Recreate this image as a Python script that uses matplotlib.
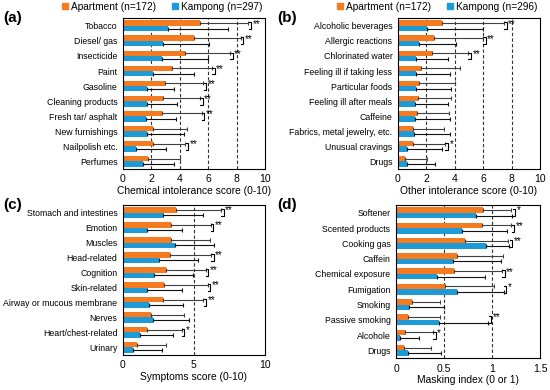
import numpy as np
import matplotlib
matplotlib.use("Agg")
import matplotlib.pyplot as plt
from matplotlib.patches import Patch

plt.rcParams['font.family'] = ['Liberation Sans', 'DejaVu Sans']

ORANGE = '#F47B20'
BLUE = '#1E9AD6'

# (a) chemical intolerance
a_labels = ["Tobacco", "Diesel/ gas", "Insecticide", "Paint", "Gasoline",
            "Cleaning products", "Fresh tar/ asphalt", "New furnishings",
            "Nailpolish etc.", "Perfumes"]
a_apt = [5.42, 5.0, 4.37, 3.43, 2.98, 2.82, 2.77, 2.11, 2.11, 1.76]
a_apt_sd = [3.41, 3.29, 3.17, 2.84, 2.68, 2.60, 2.77, 2.37, 2.28, 2.25]
a_kam = [3.19, 2.84, 2.72, 2.09, 1.69, 1.69, 1.64, 1.69, 0.92, 1.41]
a_kam_sd = [4.18, 3.19, 3.27, 2.93, 1.93, 2.09, 2.09, 2.63, 2.08, 2.18]
a_sig = ["**", "**", "**", "**", "**", "**", "**", "", "**", ""]

# (b) other intolerance
b_labels = ["Alcoholic beverages", "Allergic reactions", "Chlorinated water",
            "Feeling ill if taking less", "Particular foods",
            "Feeling ill after meals", "Caffeine",
            "Fabrics, metal jewelry, etc.", "Unusual cravings", "Drugs"]
b_apt = [3.1, 2.56, 2.4, 1.62, 1.5, 1.41, 1.32, 1.06, 1.06, 0.52]
b_apt_sd = [4.36, 3.42, 2.54, 2.73, 2.5, 2.31, 2.3, 2.16, 2.26, 1.53]
b_kam = [2.05, 1.5, 1.29, 1.27, 1.29, 1.22, 1.22, 1.13, 0.61, 0.66]
b_kam_sd = [3.93, 2.57, 2.21, 2.42, 2.43, 2.33, 2.45, 2.54, 2.49, 1.98]
b_sig = ["**", "**", "**", "", "", "", "", "", "*", ""]

# (c) symptoms
c_labels = ["Stomach and intestines", "Emotion", "Muscles", "Head-related",
            "Cognition", "Skin-related", "Airway or mucous membrane",
            "Nerves", "Heart/chest-related", "Urinary"]
c_apt = [3.73, 3.36, 3.36, 3.29, 3.03, 2.89, 2.84, 1.95, 1.67, 1.01]
c_apt_sd = [3.17, 2.81, 2.77, 2.91, 2.79, 3.07, 2.82, 2.37, 2.46, 1.99]
c_kam = [2.79, 1.71, 3.64, 2.54, 2.16, 1.67, 1.85, 2.09, 1.2, 0.73]
c_kam_sd = [2.87, 2.47, 2.77, 2.72, 2.79, 2.46, 2.35, 2.56, 2.3, 1.99]
c_sig = ["**", "**", "", "**", "**", "**", "**", "", "*", ""]

# (d) masking
d_labels = ["Softener", "Scented products", "Cooking gas", "Caffein",
            "Chemical exposure", "Fumigation", "Smoking", "Passive smoking",
            "Alcohole", "Drugs"]
d_apt = [0.906, 0.9, 0.715, 0.63, 0.6, 0.51, 0.17, 0.13, 0.09, 0.08]
d_apt_sd = [0.294, 0.3, 0.455, 0.48, 0.5, 0.51, 0.29, 0.33, 0.295, 0.28]
d_kam = [0.83, 0.69, 0.94, 0.59, 0.43, 0.635, 0.14, 0.45, 0.038, 0.13]
d_kam_sd = [0.38, 0.47, 0.24, 0.5, 0.5, 0.485, 0.36, 0.51, 0.2, 0.34]
d_sig = ["*", "**", "**", "", "**", "*", "", "**", "*", ""]


def panel(ax, labels, apt, apt_sd, kam, kam_sd, sig, xmax, step, grid, xlabel):
    y = np.arange(len(labels))
    h = 0.36
    ax.barh(y - h / 2, apt, height=h, color=ORANGE, zorder=2)
    ax.barh(y + h / 2, kam, height=h, color=BLUE, zorder=2)
    zeros = np.zeros(len(labels))
    ax.errorbar(apt, y - h / 2, xerr=[zeros, apt_sd], fmt='none',
                ecolor='#404040', elinewidth=0.8, capsize=1.5, capthick=0.8, zorder=3)
    ax.errorbar(kam, y + h / 2, xerr=[zeros, kam_sd], fmt='none',
                ecolor='#111111', elinewidth=0.8, capsize=1.5, capthick=0.8, zorder=3)
    for g in grid:
        ax.axvline(g, color='#333333', ls=(0, (3, 2)), lw=0.8, zorder=1)
    off = xmax * 0.02
    tick = xmax * 0.018
    for i, s in enumerate(sig):
        if not s:
            continue
        xb = max(apt[i] + apt_sd[i], kam[i] + kam_sd[i]) + off
        y0, y1 = i - h / 2 - 0.05, i + h / 2 + 0.05
        ax.plot([xb - tick, xb, xb, xb - tick], [y0, y0, y1, y1],
                color='black', lw=0.8, zorder=4, clip_on=False)
        ax.text(xb + off * 0.5, i - 0.15, s, fontsize=7, ha='left', va='center')
    ticks = np.arange(0, xmax + step / 2, step)
    ax.set_xlim(0, xmax)
    ax.set_xticks(ticks)
    ax.set_xticklabels([f"{v:g}" for v in ticks])
    ax.set_ylim(len(labels) - 0.5, -0.5)
    ax.set_yticks(y)
    ax.set_yticklabels(labels)
    ax.tick_params(axis='y', length=0, labelsize=6.3, pad=4)
    ax.tick_params(axis='x', length=0, labelsize=7.5, pad=4)
    ax.set_xlabel(xlabel, fontsize=7.4, labelpad=1)
    for sp in ax.spines.values():
        sp.set_linewidth(0.8)
        sp.set_color('black')


fig = plt.figure(figsize=(5.5, 3.9), dpi=100)
ax_a = fig.add_axes([0.2236, 0.567, 0.258, 0.386])
ax_b = fig.add_axes([0.7236, 0.567, 0.258, 0.386])
ax_c = fig.add_axes([0.2236, 0.09, 0.258, 0.384])
ax_d = fig.add_axes([0.7200, 0.082, 0.262, 0.392])

panel(ax_a, a_labels, a_apt, a_apt_sd, a_kam, a_kam_sd, a_sig, 10, 2,
      [2, 4, 6, 8], "Chemical intolerance score (0-10)")
panel(ax_b, b_labels, b_apt, b_apt_sd, b_kam, b_kam_sd, b_sig, 10, 2,
      [2, 4, 6, 8], "Other intolerance score (0-10)")
panel(ax_c, c_labels, c_apt, c_apt_sd, c_kam, c_kam_sd, c_sig, 10, 5,
      [5], "Symptoms score (0-10)")
panel(ax_d, d_labels, d_apt, d_apt_sd, d_kam, d_kam_sd, d_sig, 1.5, 0.5,
      [0.5, 1.0], "Masking index (0 or 1)")

for x0, n in [(0.11, 297), (0.61, 296)]:
    handles = [Patch(color=ORANGE), Patch(color=BLUE)]
    fig.legend(handles, ["Apartment (n=172)", f"Kampong (n={n})"],
               loc='upper left', bbox_to_anchor=(x0, 1.0), ncol=2,
               frameon=False, fontsize=7.3, handlelength=0.6, handleheight=0.6,
               handletextpad=0.3, columnspacing=1.6, borderpad=0.15,
               borderaxespad=0)

for lab, x, y in [("(a)", 0.005, 0.955), ("(b)", 0.505, 0.955),
                  ("(c)", 0.005, 0.475), ("(d)", 0.505, 0.475)]:
    fig.text(x, y, lab, fontsize=11, fontweight='bold', ha='left', va='center')

fig.savefig("out.png", dpi=100)
